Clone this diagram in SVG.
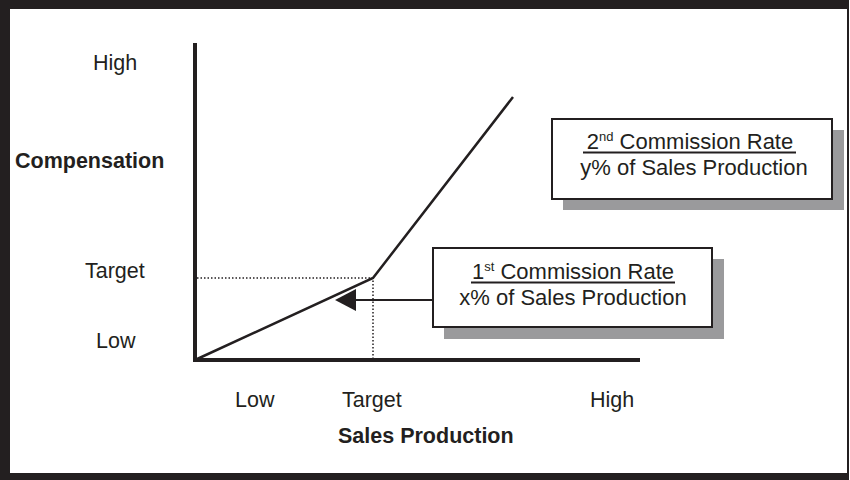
<svg xmlns="http://www.w3.org/2000/svg" width="850" height="480" viewBox="0 0 850 480">
<style>
.t{font-family:"Liberation Sans",Arial,sans-serif;font-size:21.5px;fill:#231f20}
.b{font-weight:bold}
.bt{font-family:"Liberation Sans",Arial,sans-serif;font-size:22px;fill:#231f20;text-anchor:middle}
.box{fill:#fff;stroke:#231f20;stroke-width:2}
.sh{fill:#9a9a9c}
.ax{stroke:#231f20;stroke-width:4;fill:none}
.dot{stroke:#231f20;stroke-width:1.5;stroke-dasharray:1.5 2;fill:none}
</style>
<rect width="850" height="480" fill="#fff"/>
<path d="M0,0 H849 V480 H0 Z M10,9 V473 H847 V9 Z" fill="#231f20" fill-rule="evenodd"/>
<g id="axes">
<path class="ax" d="M195,43 V360 H640"/>
</g>
<g id="labels">
<text class="t" x="93" y="70">High</text>
<text class="t b" x="15" y="168">Compensation</text>
<text class="t" x="85" y="278">Target</text>
<text class="t" x="96" y="348">Low</text>
<text class="t" x="235" y="407">Low</text>
<text class="t" x="342" y="407">Target</text>
<text class="t" x="590" y="407">High</text>
<text class="t b" x="338" y="443">Sales Production</text>
</g>
<g id="connectors">
<path class="dot" d="M197,278 H373 V358"/>
<path d="M195,360 L373,278 L513,97" fill="none" stroke="#231f20" stroke-width="2.5"/>
<path d="M355,300 H433" stroke="#231f20" stroke-width="2"/>
<polygon points="335,300 356,289 356,311" fill="#231f20"/>
</g>
<g id="box1">
<rect class="sh" x="444" y="259" width="280" height="80"/>
<rect class="box" x="433" y="248" width="279" height="79"/>
<text class="bt" x="573" y="279">1<tspan font-size="13" dy="-8">st</tspan><tspan dy="8"> Commission Rate</tspan></text>
<line x1="471" y1="282.5" x2="675" y2="282.5" stroke="#231f20" stroke-width="1.8"/>
<text class="bt" x="573" y="305">x% of Sales Production</text>
</g>
<g id="box2">
<rect class="sh" x="563" y="130" width="281" height="80"/>
<rect class="box" x="552" y="119" width="280" height="80"/>
<text class="bt" x="690" y="149">2<tspan font-size="13" dy="-8">nd</tspan><tspan dy="8"> Commission Rate</tspan></text>
<line x1="583" y1="152.5" x2="796" y2="152.5" stroke="#231f20" stroke-width="1.8"/>
<text class="bt" x="694" y="175">y% of Sales Production</text>
</g>
</svg>
